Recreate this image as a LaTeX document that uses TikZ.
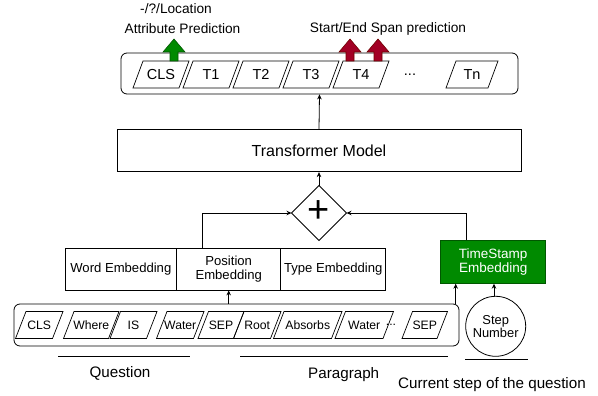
\documentclass[tikz,border=0pt]{standalone}
\usepackage{fontspec}
\setmainfont{Liberation Sans}
\usetikzlibrary{arrows.meta,calc}
\definecolor{gfill}{HTML}{008A00}
\definecolor{gline}{HTML}{005700}
\definecolor{rfill}{HTML}{A20025}
\definecolor{rline}{HTML}{6F0000}
\newcommand{\fs}[1]{\fontsize{#1}{#1}\selectfont}
\newcommand{\ptok}[7]{%
  \draw[tokline] (#2,#4) -- ++(#3,0) -- ++(#6,-#5) -- ++(-#3,0) -- cycle;
  \node[toktext] (#1) at (#2+#3/2+#6/2, #4-#5/2) {#7};
}
\begin{document}
\begin{tikzpicture}[x=1pt,y=-1pt,
  box/.style={draw, line width=0.8pt, inner sep=1pt, align=center},
  bar/.style={draw, line width=0.8pt, rounded corners=6pt, inner sep=0pt},
  arr/.style={line width=0.8pt, -{Stealth[length=5pt,width=4.5pt]}},
  plain/.style={line width=0.8pt},
  tokline/.style={line width=0.7pt},
  lbl/.style={inner sep=0pt, font=\fs{13.7}},
  biglbl/.style={inner sep=0pt, font=\fs{15.2}},
  blockg/.style={fill=gfill, draw=gline, line width=0.6pt},
  blockr/.style={fill=rfill, draw=rline, line width=0.6pt}
]
\useasboundingbox (0,0) rectangle (598,396);

% bars
\node[bar, minimum width=397pt, minimum height=41pt] (topbar) at (319.5,73.5) {};
\node[bar, minimum width=445pt, minimum height=42pt] (botbar) at (236.5,325) {};

% top tokens
\begin{scope}[toktext/.style={inner sep=0pt, font=\fs{14.5}}]
\ptok{tCLS}{133}{46}{88}{27}{10}{CLS}
\ptok{tT1}{183}{46}{88}{27}{10}{T1}
\ptok{tT2}{233}{46}{88}{27}{10}{T2}
\ptok{tT3}{283}{46}{88}{27}{10}{T3}
\ptok{tT4}{333}{46}{88}{27}{10}{T4}
\ptok{tTn}{446}{42}{88}{27}{10}{Tn}
\node[toktext] (tdots) at (410,75) {...};
\end{scope}

% bottom tokens
\begin{scope}[toktext/.style={inner sep=0pt, font=\fs{12.2}}]
\ptok{bCLS}{15.5}{37}{338.5}{27}{10.5}{CLS}
\ptok{bWhere}{63.5}{45}{338.5}{27}{10.5}{Where}
\ptok{bIS}{110}{36.5}{338.5}{27}{10.5}{IS}
\ptok{bWater}{156.5}{37}{338.5}{27}{10.5}{Water}
\ptok{bSEP}{198}{35.5}{338.5}{27}{10.5}{SEP}
\ptok{bRoot}{233.5}{37}{338.5}{27}{10.5}{Root}
\ptok{bAbs}{273.5}{58}{338.5}{27}{10.5}{Absorbs}
\ptok{bWater2}{335}{48}{338.5}{27}{10.5}{Water}
\ptok{bSEP2}{402}{35}{338.5}{27}{10.5}{SEP}
\node[toktext] (bdots) at (391,325) {...};
\end{scope}

% block arrows
\draw[blockg] (170,61) -- (170,52) -- (163,52) -- (174,39) -- (185,52) -- (178,52) -- (178,61) -- cycle;
\draw[blockr] (346,61) -- (346,52) -- (339,52) -- (350,39) -- (361,52) -- (354,52) -- (354,61) -- cycle;
\draw[blockr] (374,61) -- (374,52) -- (367,52) -- (378,39) -- (389,52) -- (382,52) -- (382,61) -- cycle;

% labels top
\node[lbl] (loc) at (176,8.5) {-/?/Location};
\node[lbl] (attr) at (182.5,29) {Attribute Prediction};
\node[lbl] (span) at (388,29) {Start/End Span prediction};

% transformer and plus
\node[box, minimum width=404pt, minimum height=42.4pt, font=\fs{16}] (trans) at (319,150.5) {Transformer Model};
\draw[plain] (319,185.5) -- (346.5,213) -- (319,240.5) -- (291.5,213) -- cycle;
\coordinate (plusN) at (319,185.5);
\coordinate (plusE) at (346.5,213);
\coordinate (plusW) at (291.5,213);
\node[inner sep=0pt, font=\fs{38}] (plus) at (319,212) {+};

% embeddings
\node[box, minimum width=111.7pt, minimum height=41.7pt, font=\fs{13.1}] (word) at (120.85,269.15) {Word Embedding};
\node[box, minimum width=104pt, minimum height=41.7pt, font=\fs{13.1}] (pos) at (228.7,269.15) {Position\\Embedding};
\node[box, minimum width=105pt, minimum height=41.7pt, font=\fs{13.1}] (type) at (333.2,269.15) {Type Embedding};
\node[box, fill=gfill, draw=gline, text=white, minimum width=105pt, minimum height=42.6pt, font=\fs{13.5}] (ts) at (493.2,262) {TimeStamp\\Embedding};
\node[draw, circle, line width=0.8pt, minimum size=60pt, inner sep=0pt, align=center, font=\fs{12.9}] (step) at (495.7,326.3) {Step\\Number};

% connectors
\draw[arr] (trans.north) -- (topbar.south);
\draw[arr] (plusN) -- (trans.south);
\draw[arr] ([xshift=-26.4pt]pos.north) |- (plusW);
\draw[arr] ([xshift=-26.5pt]ts.north) |- (plusE);
\draw[arr] (pos.south |- botbar.north) -- (pos.south);
\draw[arr] ([xshift=-37.5pt]ts.south |- botbar.north) -- ([xshift=-37.5pt]ts.south);
\draw[arr] ([xshift=-1.7pt]step.north) -- ([xshift=-1.7pt]step.north |- ts.south);

% underlines
\draw[plain] (58.3,356.7) -- (190,356.7);
\draw[plain] (240,356.7) -- (447.7,356.7);
\draw[plain] (465,359.3) -- (528.3,359.3);

% bottom labels
\node[biglbl] (q) at (120,373.5) {Question};
\node[biglbl] (para) at (343.7,374.5) {Paragraph};
\node[biglbl] (cur) at (492,384.3) {Current step of the question};
\end{tikzpicture}
\end{document}
